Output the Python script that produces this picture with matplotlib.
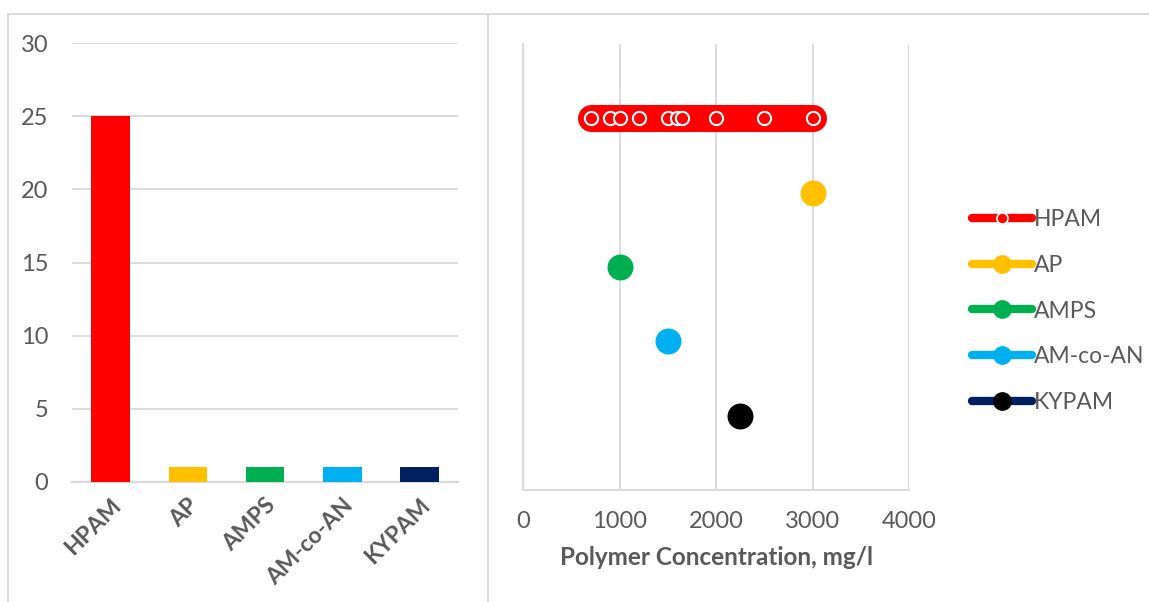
import matplotlib.pyplot as plt
from matplotlib.lines import Line2D

plt.rcParams['font.family'] = ['Lato', 'DejaVu Sans']

# data
polymers = ['HPAM', 'AP', 'AMPS', 'AM-co-AN', 'KYPAM']
counts = [25, 1, 1, 1, 1]
colors = ['#FF0000', '#FFC000', '#00B050', '#00B0F0', '#002060']
marker_colors = ['#FF0000', '#FFC000', '#00B050', '#00B0F0', '#000000']

hpam_conc = [700, 900, 1000, 1200, 1500, 1600, 1650, 2000, 2500, 3000]
hpam_level = [25] * len(hpam_conc)
other_conc = [3000, 1000, 1500, 2250]
other_level = [20, 15, 10, 5]

grey_text = '#595959'
grid_col = '#D9D9D9'

W, H = 1149, 602
fig = plt.figure(figsize=(W / 100, H / 100), dpi=100)

# chart borders
fig.add_artist(Line2D([8 / W, 1], [1 - 14 / H, 1 - 14 / H], color=grid_col, lw=1.3, transform=fig.transFigure))
fig.add_artist(Line2D([8 / W, 8 / W], [0, 1 - 14 / H], color=grid_col, lw=1.3, transform=fig.transFigure))
fig.add_artist(Line2D([488 / W, 488 / W], [0, 1 - 14 / H], color=grid_col, lw=1.3, transform=fig.transFigure))

# left: bar chart
ax1 = fig.add_axes([72 / W, (H - 482) / H, (458 - 72) / W, (482 - 43) / H])
ax1.bar(range(len(polymers)), counts, width=0.5, color=colors, zorder=3)
ax1.set_xlim(-0.5, len(polymers) - 0.5)
ax1.set_ylim(0, 30)
ax1.set_yticks(range(0, 31, 5))
ax1.yaxis.grid(True, color=grid_col, lw=1.3)
ax1.set_axisbelow(True)
for s in ['top', 'right', 'left']:
    ax1.spines[s].set_visible(False)
ax1.spines['bottom'].set_color(grid_col)
ax1.spines['bottom'].set_linewidth(1.6)
ax1.tick_params(axis='y', length=0, pad=17, labelsize=17, labelcolor=grey_text)
ax1.tick_params(axis='x', length=0, pad=9, labelsize=16.5, labelcolor=grey_text)
ax1.set_xticks(range(len(polymers)))
ax1.set_xticklabels(polymers, rotation=45, ha='right', rotation_mode='anchor', fontweight='bold')

# right: concentration scatter
ax2 = fig.add_axes([523 / W, (H - 490) / H, (909 - 523) / W, (490 - 44) / H])
ax2.plot(hpam_conc, hpam_level, color=colors[0], lw=19.5, solid_capstyle='round',
         marker='o', ms=9.5, mfc=colors[0], mec='white', mew=1.5, zorder=3)
for i in range(len(other_conc)):
    ax2.plot(other_conc[i], other_level[i], 'o', ms=18.7, mew=0,
             color=marker_colors[i + 1], zorder=3)
ax2.set_xlim(0, 4000)
ax2.set_ylim(0, 30)
ax2.set_xticks(range(0, 4001, 1000))
ax2.set_yticks([])
ax2.xaxis.grid(True, color=grid_col, lw=1.3)
ax2.set_axisbelow(True)
for s in ['top', 'right']:
    ax2.spines[s].set_visible(False)
for s in ['left', 'bottom']:
    ax2.spines[s].set_color(grid_col)
    ax2.spines[s].set_linewidth(1.3)
ax2.tick_params(axis='x', length=0, pad=15, labelsize=17, labelcolor=grey_text)
ax2.set_xlabel('Polymer Concentration, mg/l', fontsize=17.5, fontweight='bold',
               color=grey_text, labelpad=10)

# legend
handles = [Line2D([], [], color=colors[0], lw=6, solid_capstyle='round', marker='o',
                  ms=8, mfc=colors[0], mec='white', mew=1.2)]
for i in range(1, len(polymers)):
    handles.append(Line2D([], [], color=colors[i], lw=6, solid_capstyle='round',
                          marker='o', ms=13.5, mew=0, mfc=marker_colors[i]))
fig.legend(handles, polymers, loc='center left', bbox_to_anchor=(972 / W, 1 - 311 / H),
           frameon=False, fontsize=16.5, labelcolor=grey_text, handlelength=2.6,
           handletextpad=0.1, labelspacing=1.07, borderpad=0, borderaxespad=0)

fig.savefig('out.png', dpi=100)
